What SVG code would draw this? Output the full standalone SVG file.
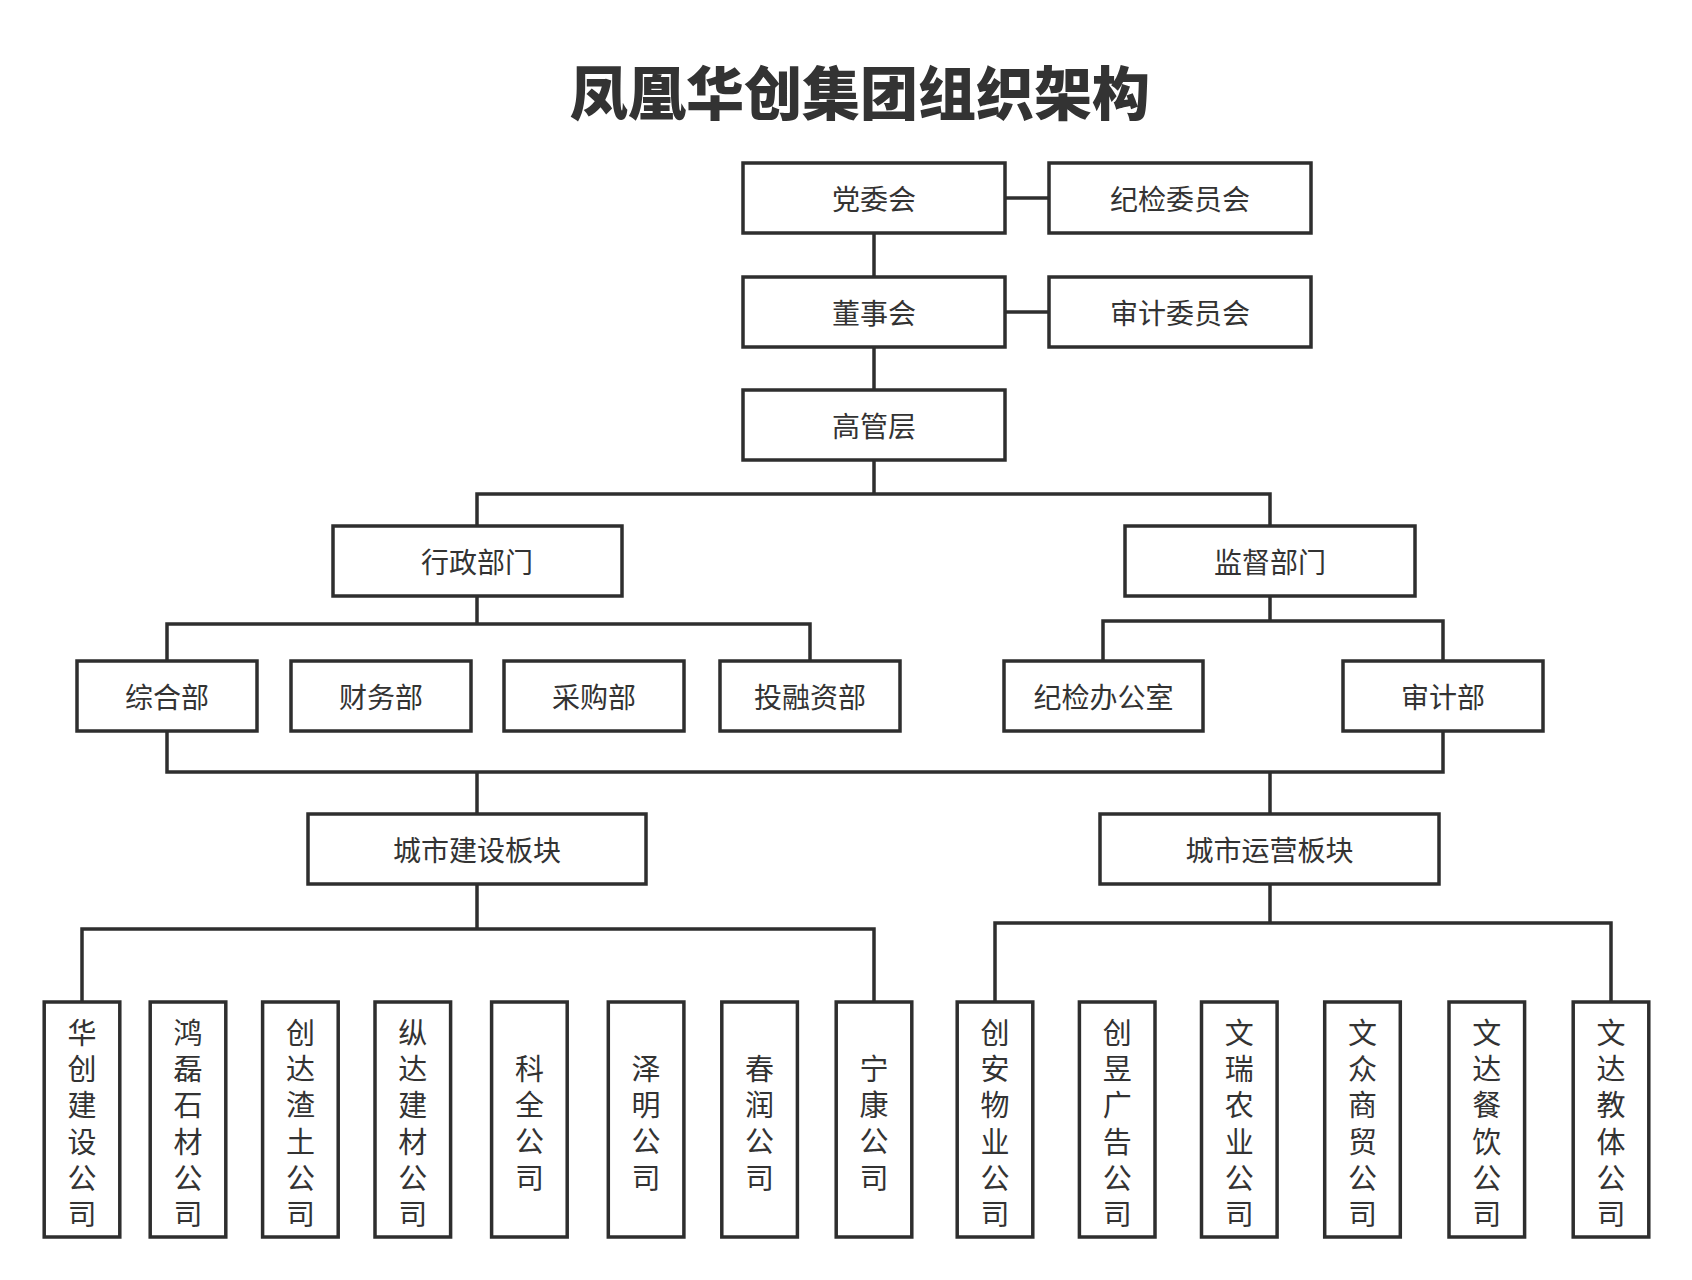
<svg xmlns="http://www.w3.org/2000/svg" width="1692" height="1280" viewBox="0 0 1692 1280">
<style>
  .box { fill: #ffffff; stroke: #2e2e2e; stroke-width: 3.5; }
  .lbl { font-family: "Noto Sans CJK SC", "Noto Sans", sans-serif; font-size: 28px; fill: #333333; text-anchor: middle; dominant-baseline: central; }
  .vl { font-family: "Noto Sans CJK SC", "Noto Sans", sans-serif; font-size: 29px; fill: #333333; text-anchor: middle; dominant-baseline: central; }
  .title { font-family: "Noto Sans CJK SC", "Noto Sans", sans-serif; font-size: 58px; font-weight: 900; fill: #333333; text-anchor: middle; dominant-baseline: central; }
  .conn { fill: none; stroke: #2e2e2e; stroke-width: 3.5; stroke-linejoin: miter; }
</style>
<rect width="1692" height="1280" fill="#ffffff"/>
<text class="title" x="860" y="90">凤凰华创集团组织架构</text>

<g id="connectors">
  <path class="conn" d="M1005 198 H1049"/>
  <path class="conn" d="M1005 312 H1049"/>
  <path class="conn" d="M874 233 V277"/>
  <path class="conn" d="M874 347 V390"/>
  <path class="conn" d="M874 460 V494 M477 526 V494 H1270 V526"/>
  <path class="conn" d="M477 596 V624 M167 661 V624 H810 V661"/>
  <path class="conn" d="M1270 596 V621 M1103 661 V621 H1443 V661"/>
  <path class="conn" d="M167 731 V772 H1443 V731 M477 772 V814 M1270 772 V814"/>
  <path class="conn" d="M477 884 V929 M82 1002 V929 H874 V1002"/>
  <path class="conn" d="M1270 884 V923 M995 1002 V923 H1611 V1002"/>
</g>

<g id="n-dangwei"><rect class="box" x="743" y="163" width="262" height="70"/><text class="lbl" x="874" y="198">党委会</text></g>
<g id="n-jijianwei"><rect class="box" x="1049" y="163" width="262" height="70"/><text class="lbl" x="1180" y="198">纪检委员会</text></g>
<g id="n-dongshi"><rect class="box" x="743" y="277" width="262" height="70"/><text class="lbl" x="874" y="312">董事会</text></g>
<g id="n-shenjiwei"><rect class="box" x="1049" y="277" width="262" height="70"/><text class="lbl" x="1180" y="312">审计委员会</text></g>
<g id="n-gaoguan"><rect class="box" x="743" y="390" width="262" height="70"/><text class="lbl" x="874" y="425">高管层</text></g>

<g id="n-xingzheng"><rect class="box" x="333" y="526" width="289" height="70"/><text class="lbl" x="477" y="561">行政部门</text></g>
<g id="n-jiandu"><rect class="box" x="1125" y="526" width="290" height="70"/><text class="lbl" x="1270" y="561">监督部门</text></g>

<g id="n-zonghe"><rect class="box" x="77" y="661" width="180" height="70"/><text class="lbl" x="167" y="696">综合部</text></g>
<g id="n-caiwu"><rect class="box" x="291" y="661" width="180" height="70"/><text class="lbl" x="381" y="696">财务部</text></g>
<g id="n-caigou"><rect class="box" x="504" y="661" width="180" height="70"/><text class="lbl" x="594" y="696">采购部</text></g>
<g id="n-tourong"><rect class="box" x="720" y="661" width="180" height="70"/><text class="lbl" x="810" y="696">投融资部</text></g>
<g id="n-jijianban"><rect class="box" x="1004" y="661" width="199" height="70"/><text class="lbl" x="1103.5" y="696">纪检办公室</text></g>
<g id="n-shenjibu"><rect class="box" x="1343" y="661" width="200" height="70"/><text class="lbl" x="1443" y="696">审计部</text></g>

<g id="n-jianshe"><rect class="box" x="308" y="814" width="338" height="70"/><text class="lbl" x="477" y="849">城市建设板块</text></g>
<g id="n-yunying"><rect class="box" x="1100" y="814" width="339" height="70"/><text class="lbl" x="1269.5" y="849">城市运营板块</text></g>

<g id="n-c1"><rect class="box" x="44.2" y="1002" width="75.6" height="235"/><text class="vl" x="82" y="1031"><tspan x="82" dy="0">华</tspan><tspan x="82" dy="36.2">创</tspan><tspan x="82" dy="36.2">建</tspan><tspan x="82" dy="36.2">设</tspan><tspan x="82" dy="36.2">公</tspan><tspan x="82" dy="36.2">司</tspan></text></g>
<g id="n-c2"><rect class="box" x="150.2" y="1002" width="75.6" height="235"/><text class="vl" x="188" y="1031"><tspan x="188" dy="0">鸿</tspan><tspan x="188" dy="36.2">磊</tspan><tspan x="188" dy="36.2">石</tspan><tspan x="188" dy="36.2">材</tspan><tspan x="188" dy="36.2">公</tspan><tspan x="188" dy="36.2">司</tspan></text></g>
<g id="n-c3"><rect class="box" x="262.6" y="1002" width="75.6" height="235"/><text class="vl" x="300.4" y="1031"><tspan x="300.4" dy="0">创</tspan><tspan x="300.4" dy="36.2">达</tspan><tspan x="300.4" dy="36.2">渣</tspan><tspan x="300.4" dy="36.2">土</tspan><tspan x="300.4" dy="36.2">公</tspan><tspan x="300.4" dy="36.2">司</tspan></text></g>
<g id="n-c4"><rect class="box" x="375" y="1002" width="75.6" height="235"/><text class="vl" x="412.8" y="1031"><tspan x="412.8" dy="0">纵</tspan><tspan x="412.8" dy="36.2">达</tspan><tspan x="412.8" dy="36.2">建</tspan><tspan x="412.8" dy="36.2">材</tspan><tspan x="412.8" dy="36.2">公</tspan><tspan x="412.8" dy="36.2">司</tspan></text></g>
<g id="n-c5"><rect class="box" x="491.6" y="1002" width="75.6" height="235"/><text class="vl" x="529.4" y="1067"><tspan x="529.4" dy="0">科</tspan><tspan x="529.4" dy="36.2">全</tspan><tspan x="529.4" dy="36.2">公</tspan><tspan x="529.4" dy="36.2">司</tspan></text></g>
<g id="n-c6"><rect class="box" x="608.3" y="1002" width="75.6" height="235"/><text class="vl" x="646.1" y="1067"><tspan x="646.1" dy="0">泽</tspan><tspan x="646.1" dy="36.2">明</tspan><tspan x="646.1" dy="36.2">公</tspan><tspan x="646.1" dy="36.2">司</tspan></text></g>
<g id="n-c7"><rect class="box" x="721.8" y="1002" width="75.6" height="235"/><text class="vl" x="759.6" y="1067"><tspan x="759.6" dy="0">春</tspan><tspan x="759.6" dy="36.2">润</tspan><tspan x="759.6" dy="36.2">公</tspan><tspan x="759.6" dy="36.2">司</tspan></text></g>
<g id="n-c8"><rect class="box" x="836.2" y="1002" width="75.6" height="235"/><text class="vl" x="874" y="1067"><tspan x="874" dy="0">宁</tspan><tspan x="874" dy="36.2">康</tspan><tspan x="874" dy="36.2">公</tspan><tspan x="874" dy="36.2">司</tspan></text></g>
<g id="n-c9"><rect class="box" x="957.2" y="1002" width="75.6" height="235"/><text class="vl" x="995" y="1031"><tspan x="995" dy="0">创</tspan><tspan x="995" dy="36.2">安</tspan><tspan x="995" dy="36.2">物</tspan><tspan x="995" dy="36.2">业</tspan><tspan x="995" dy="36.2">公</tspan><tspan x="995" dy="36.2">司</tspan></text></g>
<g id="n-c10"><rect class="box" x="1079.4" y="1002" width="75.6" height="235"/><text class="vl" x="1117.2" y="1031"><tspan x="1117.2" dy="0">创</tspan><tspan x="1117.2" dy="36.2">昱</tspan><tspan x="1117.2" dy="36.2">广</tspan><tspan x="1117.2" dy="36.2">告</tspan><tspan x="1117.2" dy="36.2">公</tspan><tspan x="1117.2" dy="36.2">司</tspan></text></g>
<g id="n-c11"><rect class="box" x="1201.5" y="1002" width="75.6" height="235"/><text class="vl" x="1239.3" y="1031"><tspan x="1239.3" dy="0">文</tspan><tspan x="1239.3" dy="36.2">瑞</tspan><tspan x="1239.3" dy="36.2">农</tspan><tspan x="1239.3" dy="36.2">业</tspan><tspan x="1239.3" dy="36.2">公</tspan><tspan x="1239.3" dy="36.2">司</tspan></text></g>
<g id="n-c12"><rect class="box" x="1324.7" y="1002" width="75.6" height="235"/><text class="vl" x="1362.5" y="1031"><tspan x="1362.5" dy="0">文</tspan><tspan x="1362.5" dy="36.2">众</tspan><tspan x="1362.5" dy="36.2">商</tspan><tspan x="1362.5" dy="36.2">贸</tspan><tspan x="1362.5" dy="36.2">公</tspan><tspan x="1362.5" dy="36.2">司</tspan></text></g>
<g id="n-c13"><rect class="box" x="1449" y="1002" width="75.6" height="235"/><text class="vl" x="1486.8" y="1031"><tspan x="1486.8" dy="0">文</tspan><tspan x="1486.8" dy="36.2">达</tspan><tspan x="1486.8" dy="36.2">餐</tspan><tspan x="1486.8" dy="36.2">饮</tspan><tspan x="1486.8" dy="36.2">公</tspan><tspan x="1486.8" dy="36.2">司</tspan></text></g>
<g id="n-c14"><rect class="box" x="1573.2" y="1002" width="75.6" height="235"/><text class="vl" x="1611" y="1031"><tspan x="1611" dy="0">文</tspan><tspan x="1611" dy="36.2">达</tspan><tspan x="1611" dy="36.2">教</tspan><tspan x="1611" dy="36.2">体</tspan><tspan x="1611" dy="36.2">公</tspan><tspan x="1611" dy="36.2">司</tspan></text></g>
</svg>
